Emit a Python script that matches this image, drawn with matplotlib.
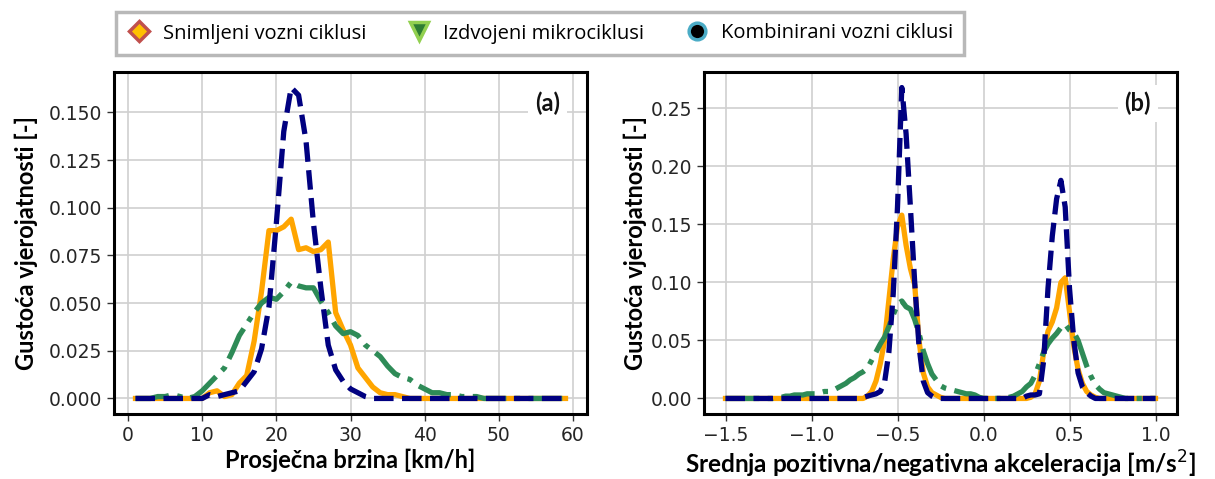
import numpy as np
import matplotlib
matplotlib.use('Agg')
from matplotlib import pyplot as plt
from matplotlib.lines import Line2D
from matplotlib.ticker import MultipleLocator

# (a) average speed, km/h bins
speed = np.arange(1, 60)
speed_recorded = [0, 0, 0, 0, 0, 0, 0, 0, 0, 0,
                  0.003, 0.004, 0.001, 0.002, 0.008, 0.012, 0.030, 0.056, 0.088, 0.088,
                  0.090, 0.094, 0.078, 0.079, 0.077, 0.078, 0.082, 0.045, 0.036, 0.028,
                  0.016, 0.011, 0.006, 0.003, 0.002, 0.002, 0.001, 0, 0, 0,
                  0, 0, 0, 0, 0, 0, 0, 0, 0, 0,
                  0, 0, 0, 0, 0, 0, 0, 0, 0]
speed_micro = [0, 0, 0, 0.001, 0.001, 0.002, 0.001, 0, 0.001, 0.004,
               0.008, 0.012, 0.016, 0.024, 0.033, 0.039, 0.045, 0.050, 0.053, 0.052,
               0.056, 0.061, 0.059, 0.058, 0.058, 0.051, 0.045, 0.038, 0.034, 0.035,
               0.033, 0.028, 0.025, 0.022, 0.017, 0.013, 0.011, 0.010, 0.007, 0.005,
               0.003, 0.003, 0.002, 0.002, 0.001, 0.001, 0.001, 0, 0, 0,
               0, 0, 0, 0, 0, 0, 0, 0, 0]
speed_combined = [0, 0, 0, 0, 0, 0, 0, 0, 0, 0,
                  0.002, 0.001, 0.002, 0.003, 0.004, 0.009, 0.014, 0.026, 0.048, 0.092,
                  0.140, 0.163, 0.159, 0.135, 0.092, 0.058, 0.028, 0.015, 0.009, 0.005,
                  0.003, 0.001, 0, 0, 0, 0, 0, 0, 0, 0,
                  0, 0, 0, 0, 0, 0, 0, 0, 0, 0,
                  0, 0, 0, 0, 0, 0, 0, 0, 0]

# (b) mean positive/negative acceleration, m/s^2 bins (-1.5 .. 1.0)
accel = np.round(np.arange(-1.5, 1.0 + 1e-9, 0.025), 3)
accel_recorded = [0, 0, 0, 0, 0, 0, 0, 0, 0, 0,
                  0, 0, 0, 0, 0, 0, 0, 0, 0, 0,
                  0, 0, 0, 0, 0, 0, 0, 0, 0, 0,
                  0, 0, 0, 0.002, 0.006, 0.015, 0.030, 0.050, 0.085, 0.120,
                  0.148, 0.158, 0.132, 0.112, 0.098, 0.050, 0.022, 0.010, 0.005, 0.003,
                  0.001, 0, 0, 0, 0, 0, 0, 0, 0, 0,
                  0, 0, 0, 0, 0, 0, 0, 0, 0, 0,
                  0, 0.001, 0.004, 0.015, 0.040, 0.058, 0.066, 0.078, 0.100, 0.104,
                  0.075, 0.045, 0.025, 0.013, 0.006, 0.003, 0.001, 0, 0, 0,
                  0, 0, 0, 0, 0, 0, 0, 0, 0, 0,
                  0]
accel_micro = [0, 0, 0, 0, 0, 0, 0, 0, 0, 0,
               0, 0, 0.001, 0.001, 0.002, 0.002, 0.003, 0.003, 0.003, 0.004,
               0.004, 0.004, 0.005, 0.006, 0.006, 0.007, 0.009, 0.011, 0.013, 0.016,
               0.018, 0.021, 0.023, 0.026, 0.033, 0.040, 0.047, 0.053, 0.062, 0.072,
               0.081, 0.084, 0.079, 0.077, 0.068, 0.056, 0.041, 0.030, 0.021, 0.016,
               0.011, 0.009, 0.008, 0.007, 0.006, 0.005, 0.004, 0.004, 0.003, 0.001,
               0, 0, 0, 0, 0, 0, 0.001, 0.002, 0.004, 0.006,
               0.010, 0.013, 0.020, 0.030, 0.040, 0.047, 0.052, 0.056, 0.061, 0.064,
               0.059, 0.057, 0.050, 0.039, 0.028, 0.019, 0.012, 0.008, 0.005, 0.004,
               0.003, 0.002, 0.001, 0, 0, 0, 0, 0, 0, 0,
               0]
accel_combined = [0, 0, 0, 0, 0, 0, 0, 0, 0, 0,
                  0, 0, 0, 0, 0, 0, 0, 0, 0, 0,
                  0, 0, 0, 0, 0, 0, 0, 0, 0, 0,
                  0, 0, 0.001, 0.002, 0.003, 0.004, 0.006, 0.014, 0.040, 0.090,
                  0.165, 0.268, 0.228, 0.165, 0.100, 0.045, 0.015, 0.005, 0.002, 0,
                  0, 0, 0, 0, 0, 0, 0, 0, 0, 0,
                  0, 0, 0, 0, 0, 0, 0, 0, 0, 0,
                  0.002, 0.003, 0.003, 0.004, 0.033, 0.095, 0.140, 0.172, 0.188, 0.165,
                  0.095, 0.050, 0.022, 0.010, 0.005, 0.002, 0, 0, 0, 0,
                  0, 0, 0, 0, 0, 0, 0, 0, 0, 0,
                  0]

labels = ['Snimljeni vozni ciklusi', 'Izdvojeni mikrociklusi', 'Kombinirani vozni ciklusi']
ylabel = 'Gustoća vjerojatnosti [-]'
label_font = 'Lato'


def style_axes(ax, letter):
    ax.grid(True, color='#d0d0d0', linewidth=1.2)
    ax.set_axisbelow(True)
    for sp in ax.spines.values():
        sp.set_linewidth(2.2)
        sp.set_color('black')
    ax.tick_params(direction='out', length=5, width=1, color='#333333',
                   labelsize=13.5, labelcolor='#262626')
    ax.text(0.917, 0.909, letter, transform=ax.transAxes, ha='center', va='center',
            fontsize=17, fontweight='bold', family=label_font, color='#111111',
            bbox=dict(facecolor='white', edgecolor='none', pad=5))


def draw(ax, x, recorded, micro, combined):
    ax.plot(x, recorded, color='orange', linewidth=3.8)
    ax.plot(x, micro, color='seagreen', linewidth=3.8, linestyle='-.')
    ax.plot(x, combined, color='navy', linewidth=3.8, linestyle='--')


fig = plt.figure(figsize=(12.15, 4.79), dpi=100)
ax1 = fig.add_axes([114 / 1215, 65 / 479, 473 / 1215, 342 / 479])
ax2 = fig.add_axes([704 / 1215, 65 / 479, 473 / 1215, 342 / 479])

draw(ax1, speed, speed_recorded, speed_micro, speed_combined)
draw(ax2, accel, accel_recorded, accel_micro, accel_combined)
ax1.yaxis.set_major_locator(MultipleLocator(0.025))

style_axes(ax1, '(a)')
style_axes(ax2, '(b)')
ax1.set_xlabel('Prosječna brzina [km/h]', fontsize=17, fontweight='bold',
               family=label_font, labelpad=3)
ax2.set_xlabel('Srednja pozitivna/negativna akceleracija [m/s$^2$]', fontsize=17.5,
               fontweight='bold', family=label_font, labelpad=3)
ax1.set_ylabel(ylabel, fontsize=17, fontweight='bold', family=label_font, labelpad=8)
ax2.set_ylabel(ylabel, fontsize=17, fontweight='bold', family=label_font, labelpad=3)

handles = [
    Line2D([], [], linestyle='none', marker='D', markersize=10,
           markerfacecolor='#ffc000', markeredgecolor='#c0504d', markeredgewidth=2.5),
    Line2D([], [], linestyle='none', marker='v', markersize=13,
           markerfacecolor='#2e7d32', markeredgecolor='#92d050', markeredgewidth=2.5),
    Line2D([], [], linestyle='none', marker='o', markersize=12,
           markerfacecolor='black', markeredgecolor='#4bacc6', markeredgewidth=2.5),
]
leg = fig.legend(handles, labels, loc='center', bbox_to_anchor=(540 / 1215, 1 - 33.5 / 479),
                 ncol=3, frameon=True, fancybox=False, framealpha=1,
                 edgecolor='#b8b8b8', handlelength=1.2, handletextpad=0.6,
                 columnspacing=2.0, borderpad=0.55,
                 prop={'family': 'Open Sans', 'size': 14.5})
leg.get_frame().set_linewidth(2.5)

fig.savefig('out.png', dpi=100)
